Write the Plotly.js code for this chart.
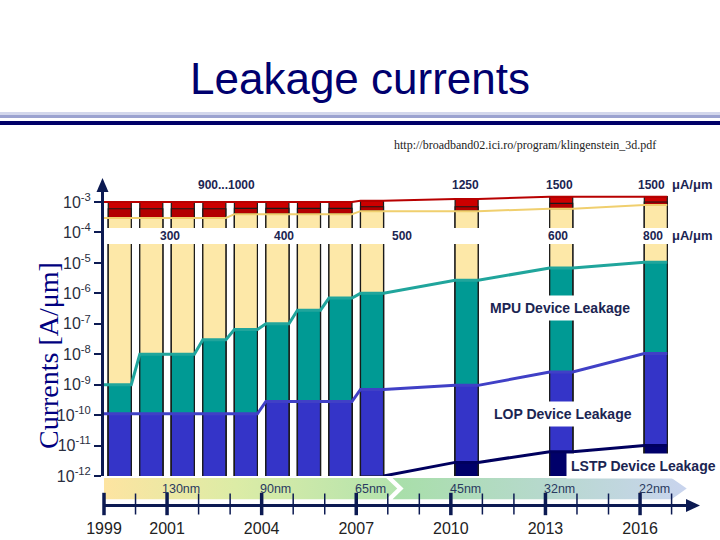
<!DOCTYPE html>
<html><head><meta charset="utf-8">
<script src="https://cdn.plot.ly/plotly-3.0.1.min.js"></script>
<style>html,body{margin:0;padding:0;background:#fff}#chart{width:720px;height:540px}</style>
</head><body><div id="chart"></div>
<script>
// ---- data ----
const barYears   = [1999, 2000, 2001, 2002, 2003, 2004, 2005, 2006, 2007, 2010, 2013, 2016];
const hpIon      = [1e-3, 1e-3, 1e-3, 1e-3, 1e-3, 1e-3, 1e-3, 1e-3, 1.1e-3, 1.25e-3, 1.5e-3, 1.5e-3];
const hpSplit    = [6e-4, 6e-4, 6e-4, 6e-4, 6.2e-4, 6.2e-4, 6.2e-4, 6.2e-4, 7e-4, 7e-4, 9e-4, 1e-3];
const lpIon      = [3e-4, 3e-4, 3e-4, 3e-4, 4e-4, 4e-4, 4e-4, 4e-4, 5e-4, 5e-4, 6e-4, 8e-4];
const mpuLeak    = [1e-9, 1e-8, 1e-8, 3e-8, 6.5e-8, 1e-7, 2.8e-7, 7e-7, 1e-6, 2.7e-6, 6.8e-6, 1.05e-5];
const lopLeak    = [1.1e-10, 1.1e-10, 1.1e-10, 1.1e-10, 1.1e-10, 2.8e-10, 2.8e-10, 2.8e-10, 7e-10, 9.5e-10, 2.6e-9, 1.05e-8];
const lstpLeak   = [null, null, null, null, null, null, null, null, 1e-12, 2.8e-12, 6.3e-12, 1e-11];
const yearTicks  = [1999, 2001, 2004, 2007, 2010, 2013, 2016];
const minorYears = [2000, 2002, 2003, 2005, 2006, 2008, 2009, 2011, 2012, 2014, 2015, 2017];
const nodeYears  = [2001, 2004, 2007, 2010, 2013, 2016];
const nodeLabels = ['130nm', '90nm', '65nm', '45nm', '32nm', '22nm'];
const hpLabels   = ['900...1000', '1250', '1500', '1500'];
const lpLabels   = ['300', '400', '500', '600', '800'];
const seriesNames = ['MPU Device Leakage', 'LOP Device Leakage', 'LSTP Device Leakage'];
const yTickExp   = [-3, -4, -5, -6, -7, -8, -9, -10, -11, -12];

// ---- style ----
const W = 0.73;
const NAVY = '#0c1a52';
const LBL = '#1b2552';
const xc = barYears.map(y => y + 0.5);

function bar(vals, color) {
  return {type: 'bar', x: xc, y: vals, width: W, xaxis: 'x', yaxis: 'y',
    marker: {color: color, line: {color: '#1a1a1a', width: 1.2}}, hoverinfo: 'skip'};
}
function stepLine(vals, color, width, fromAxis) {
  const xs = [], ys = [];
  vals.forEach((v, i) => {
    if (v == null) return;
    if (xs.length === 0) {
      if (fromAxis) { xs.push(1999); ys.push(v); xs.push(xc[i] - W / 2); ys.push(v); }
      xs.push(xc[i] + W / 2); ys.push(v);
      return;
    }
    xs.push(xc[i] - W / 2, xc[i] + W / 2); ys.push(v, v);
  });
  return {type: 'scatter', mode: 'lines', x: xs, y: ys, xaxis: 'x', yaxis: 'y',
    line: {color: color, width: width}, hoverinfo: 'skip'};
}

const traces = [
  bar(hpIon, '#cc0000'),
  bar(hpSplit, '#b30000'),
  bar(lpIon, '#fde8a8'),
  bar(mpuLeak, '#009a94'),
  bar(lopLeak, '#3434c8'),
  bar(lstpLeak, '#00006a'),
  stepLine(hpIon, '#b80000', 2, true),
  stepLine(lpIon, '#f0cf6e', 2, true),
  stepLine(mpuLeak, '#20a59c', 3, true),
  stepLine(lopLeak, '#4040c6', 3, true),
  stepLine(lstpLeak, '#00005e', 3, false),
  // technology-node timeline band
  {type: 'scatter', mode: 'lines', xaxis: 'x', yaxis: 'y2', hoverinfo: 'skip',
   x: [1999, 2007.95, 2008.3, 2007.95, 1999, 1999], y: [0.17, 0.17, 0.55, 0.93, 0.93, 0.17],
   fill: 'toself', line: {width: 0}, fillcolor: '#d9eba3',
   fillgradient: {type: 'horizontal', start: 1999, stop: 2008.3,
     colorscale: [[0, '#fde4a1'], [0.45, '#dceca6'], [1, '#b3e3ae']]}},
  {type: 'scatter', mode: 'lines', xaxis: 'x', yaxis: 'y2', hoverinfo: 'skip',
   x: [2008.15, 2017.0, 2017.48, 2017.0, 2008.15, 2008.5, 2008.15], y: [0.17, 0.17, 0.55, 0.93, 0.93, 0.55, 0.17],
   fill: 'toself', line: {width: 0}, fillcolor: '#b4dbc8',
   fillgradient: {type: 'horizontal', start: 2008.15, stop: 2017.48,
     colorscale: [[0, '#a8dfa8'], [0.5, '#b6d9cc'], [1, '#c9d4ee']]}},
  // axis ticks crossing the time axis
  {type: 'scatter', mode: 'markers', xaxis: 'x', yaxis: 'y2', x: minorYears, y: minorYears.map(() => 0),
   marker: {symbol: 'line-ns-open', size: 15, color: NAVY, line: {color: NAVY, width: 1.5}}, cliponaxis: false, hoverinfo: 'skip'},
  {type: 'scatter', mode: 'markers', xaxis: 'x', yaxis: 'y2', x: yearTicks, y: yearTicks.map(() => 0),
   marker: {symbol: 'line-ns-open', size: 16, color: NAVY, line: {color: NAVY, width: 3.5}}, cliponaxis: false, hoverinfo: 'skip'}
];

const P = (px) => px / 720;          // paper x from pixel
const Q = (py) => (540 - py) / 540;  // paper y from pixel

const boldLbl = (text, x, xref, y, size) => ({text: '<b>' + text + '</b>', x: x, xref: xref, y: Q(y), yref: 'paper',
  showarrow: false, font: {size: size || 12, color: LBL}, xanchor: 'center', yanchor: 'middle'});

const annotations = [
  // y axis title
  {text: 'Currents [A/\u03bcm]', x: P(48), y: Q(356), xref: 'paper', yref: 'paper', textangle: -90, showarrow: false,
   xanchor: 'center', yanchor: 'middle',
   font: {family: 'Liberation Serif, Times New Roman, serif', size: 28, color: '#000080'}},
  // source
  {text: 'http://broadband02.ici.ro/program/klingenstein_3d.pdf', x: P(525), y: Q(145), xref: 'paper', yref: 'paper',
   xanchor: 'center', yanchor: 'middle', showarrow: false,
   font: {family: 'Liberation Serif, Times New Roman, serif', size: 12, color: '#222'}},
  // on-current labels
  boldLbl(hpLabels[0], 2002.9, 'x', 185), boldLbl(hpLabels[1], 2010.45, 'x', 185),
  boldLbl(hpLabels[2], 2013.45, 'x', 185), boldLbl(hpLabels[3], 2016.35, 'x', 185),
  boldLbl('\u03bcA/\u03bcm', P(692), 'paper', 185, 13),
  boldLbl(lpLabels[0], 2001.1, 'x', 236), boldLbl(lpLabels[1], 2004.7, 'x', 236), boldLbl(lpLabels[2], 2008.45, 'x', 236),
  boldLbl(lpLabels[3], 2013.4, 'x', 236), boldLbl(lpLabels[4], 2016.4, 'x', 236),
  boldLbl('\u03bcA/\u03bcm', P(692), 'paper', 236, 13),
];
// series labels with white boxes
[[seriesNames[0], 2013.47, 308], [seriesNames[1], 2013.55, 414], [seriesNames[2], 2016.1, 466]].forEach(([t, x, y]) => {
  const a = boldLbl(t, x, 'x', y, 14);
  a.bgcolor = '#ffffff'; a.borderpad = 4;
  annotations.push(a);
});
// node labels
nodeYears.forEach((y, i) => annotations.push({text: nodeLabels[i], x: y + 0.45, xref: 'x', y: Q(489), yref: 'paper',
  xanchor: 'center', yanchor: 'middle', showarrow: false, font: {size: 12.5, color: '#2a3a60'}}));

// arrowheads as triangles (paper coordinates)
const tri = (pts) => 'M' + pts.map(p => P(p[0]) + ',' + Q(p[1])).join(' L') + ' Z';

const layout = {
  width: 720, height: 540, margin: {l: 0, r: 0, t: 0, b: 0},
  paper_bgcolor: '#ffffff', plot_bgcolor: 'rgba(0,0,0,0)',
  barmode: 'overlay', showlegend: false,
  font: {family: 'Liberation Sans, Arial, sans-serif'},
  title: {text: 'Leakage currents', font: {size: 44, color: '#00006e'}, x: 0.5, xanchor: 'center',
          y: Q(79), yanchor: 'middle', yref: 'container'},
  xaxis: {domain: [P(104), P(690.5)], range: [1999, 2017.6], anchor: 'y2', showgrid: false, zeroline: false,
          showline: true, linecolor: NAVY, linewidth: 3, ticks: '', tickvals: yearTicks, ticktext: yearTicks.map(String),
          tickfont: {size: 16, color: '#222'}, ticklabelstandoff: 8},
  yaxis: {domain: [Q(476), Q(186)], type: 'log', range: [-12, -2.474], anchor: 'x', showgrid: false, zeroline: false,
          showline: true, linecolor: NAVY, linewidth: 3, ticks: 'outside', ticklen: 7, tickwidth: 2, tickcolor: NAVY,
          tickvals: yTickExp.map(e => Math.pow(10, e)), ticktext: yTickExp.map(e => '10<sup>' + e + '</sup>'),
          tickfont: {size: 16, color: '#2a2e3e'}},
  yaxis2: {domain: [Q(504), Q(476)], range: [0, 1], anchor: 'x', visible: false},
  shapes: [
    {type: 'rect', xref: 'paper', yref: 'paper', x0: P(107), x1: 1, y0: Q(244), y1: Q(228), fillcolor: '#ffffff', line: {width: 0}, layer: 'above'},
    {type: 'rect', xref: 'paper', yref: 'paper', x0: 0, x1: 1, y0: Q(115), y1: Q(112), fillcolor: '#d3d7ec', line: {width: 0}},
    {type: 'rect', xref: 'paper', yref: 'paper', x0: 0, x1: 1, y0: Q(118), y1: Q(115), fillcolor: '#9ba2d0', line: {width: 0}},
    {type: 'rect', xref: 'paper', yref: 'paper', x0: 0, x1: 1, y0: Q(125), y1: Q(121), fillcolor: '#000068', line: {width: 0}},
    {type: 'path', xref: 'paper', yref: 'paper', path: tri([[102.5, 178], [96.5, 192], [108.5, 192]]), fillcolor: NAVY, line: {width: 0}},
    {type: 'path', xref: 'paper', yref: 'paper', path: tri([[700, 505.5], [686, 499], [686, 512]]), fillcolor: NAVY, line: {width: 0}}
  ],
  annotations: annotations
};

Plotly.newPlot('chart', traces, layout, {staticPlot: true, displayModeBar: false});
</script>
</body></html>
